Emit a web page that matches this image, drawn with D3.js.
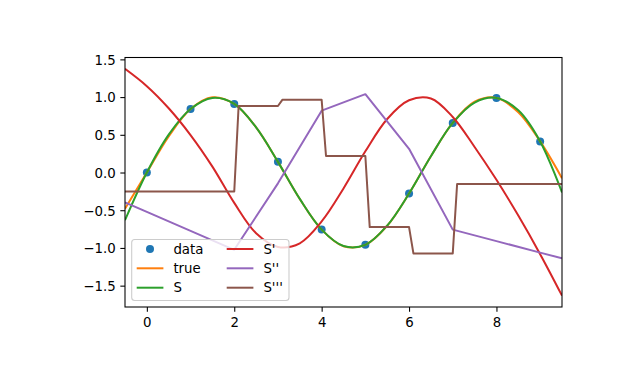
<!DOCTYPE html>
<html>
<head>
<meta charset="utf-8">
<script src="https://cdn.jsdelivr.net/npm/d3@7"></script>
<style>
  html, body { margin: 0; padding: 0; background: #fff; }
  svg { display: block; font-family: "DejaVu Sans", sans-serif; }
</style>
</head>
<body>
<svg id="chart" width="624" height="384"></svg>
<script>
// ---- data ----
const dataX = [0, 1, 2, 3, 4, 5, 6, 7, 8, 9];
const dataY = [0, 0.841471, 0.909297, 0.141120, -0.756802, -0.958924, -0.279415, 0.656987, 0.989358, 0.412118];

const curveX = [-0.5, 0, 0.5, 1, 1.5, 2, 2.5, 3, 3.5, 4, 4.5, 5, 5.5, 6, 6.5, 7, 7.5, 8, 8.5, 9, 9.5];
const trueY = [-0.479426, 0, 0.479426, 0.841471, 0.997495, 0.909297, 0.598472, 0.141120, -0.350783, -0.756802, -0.977530,
               -0.958924, -0.705540, -0.279415, 0.215120, 0.656987, 0.938000, 0.989358, 0.798487, 0.412118, -0.075151];
const sY = [-0.632385, 0, 0.501748, 0.841471, 0.987783, 0.909297, 0.598218, 0.141120, -0.350120, -0.756802, -0.974025,
            -0.958924, -0.703778, -0.279415, 0.216435, 0.656987, 0.927361, 0.989358, 0.823953, 0.412118, -0.265174];
const s1Y = [1.374480, 1.144594, 0.851933, 0.496498, 0.078288, -0.402696, -0.804900, -0.986768, -0.938058, -0.648532, -0.211241,
             0.280765, 0.709664, 0.957633, 0.981085, 0.736438, 0.338713, -0.097065, -0.570898, -1.082784, -1.632724];

const s2X = [-0.5, 0, 1, 2, 3, 4, 5, 6, 7, 8, 9, 9.5];
const s2Y = [-0.396998, -0.522547, -0.773645, -1.024743, -0.143398, 0.819867, 1.038728, 0.315006, -0.757395, -0.909611, -1.061827, -1.137935];

const s3X = [-0.5, 2.0, 2.1, 3.0, 3.1, 4.0, 4.1, 5.0, 5.1, 6.0, 6.1, 7.0, 7.1, 9.5];
const s3Y = [-0.251098, -0.251098, 0.881345, 0.881345, 0.963265, 0.963265, 0.218861, 0.218861, -0.723722, -0.723722,
             -1.072401, -1.072401, -0.152216, -0.152216];

const xTicks = [0, 2, 4, 6, 8];
const yTicks = [-1.5, -1.0, -0.5, 0.0, 0.5, 1.0, 1.5];

const colors = { data: "#1f77b4", trueC: "#ff7f0e", S: "#2ca02c", S1: "#d62728", S2: "#9467bd", S3: "#8c564b" };

// ---- layout ----
const svg = d3.select("#chart");
const L = 125, R = 562, T = 57.5, B = 307;
const FS = 13.33;

const allY = [].concat(dataY, trueY, sY, s1Y, s2Y, s3Y);
const [ymin, ymax] = d3.extent(allY);
const pad = (ymax - ymin) * 0.05;

const x = d3.scaleLinear().domain([-0.5, 9.5]).range([L, R]);
const y = d3.scaleLinear().domain([ymin - pad, ymax + pad]).range([B, T]);

svg.append("defs").append("clipPath").attr("id", "clip")
  .append("rect").attr("x", L).attr("y", T).attr("width", R - L).attr("height", B - T);

const plot = svg.append("g").attr("clip-path", "url(#clip)");

function drawLine(xs, ys, color, curve) {
  const pts = xs.map((v, i) => [v, ys[i]]);
  plot.append("path")
    .attr("d", d3.line().x(d => x(d[0])).y(d => y(d[1])).curve(curve)(pts))
    .attr("fill", "none").attr("stroke", color).attr("stroke-width", 2)
    .attr("stroke-linejoin", "round").attr("stroke-linecap", "butt");
}

// markers first (data drawn first in matplotlib)
plot.append("g").selectAll("circle").data(dataX).join("circle")
  .attr("cx", d => x(d)).attr("cy", (d, i) => y(dataY[i])).attr("r", 4)
  .attr("fill", colors.data);

drawLine(curveX, trueY, colors.trueC, d3.curveCatmullRom.alpha(0.5));
drawLine(curveX, sY, colors.S, d3.curveCatmullRom.alpha(0.5));
drawLine(curveX, s1Y, colors.S1, d3.curveCatmullRom.alpha(0.5));
drawLine(s2X, s2Y, colors.S2, d3.curveLinear);
drawLine(s3X, s3Y, colors.S3, d3.curveLinear);

// ---- axes ----
const frame = svg.append("g");
frame.append("rect").attr("x", L).attr("y", T).attr("width", R - L).attr("height", B - T)
  .attr("fill", "none").attr("stroke", "#000").attr("stroke-width", 1.07);

const xAxis = svg.append("g").attr("transform", `translate(0,${B})`)
  .call(d3.axisBottom(x).tickValues(xTicks).tickSize(4.67).tickPadding(4.67).tickFormat(d3.format("d")));
const yAxis = svg.append("g").attr("transform", `translate(${L},0)`)
  .call(d3.axisLeft(y).tickValues(yTicks).tickSize(4.67).tickPadding(4.67)
    .tickFormat(d => d3.format(".1f")(d).replace("-", "\u2212")));
[xAxis, yAxis].forEach(a => {
  a.select(".domain").remove();
  a.selectAll(".tick line").attr("stroke", "#000").attr("stroke-width", 1.07);
  a.selectAll(".tick text").attr("fill", "#000").style("font-size", FS + "px")
    .style("font-family", "'DejaVu Sans', sans-serif");
});
xAxis.selectAll(".tick text").attr("dy", null).attr("y", 19.5);
yAxis.selectAll(".tick text").attr("dy", "0.36em");

// ---- legend ----
const leg = svg.append("g");
leg.append("rect").attr("x", 131.7).attr("y", 239.5).attr("width", 157.3).attr("height", 61)
  .attr("rx", 3).attr("fill", "#fff").attr("fill-opacity", 0.8)
  .attr("stroke", "#cccccc").attr("stroke-width", 1.07);

const legItems = [
  { label: "data", color: colors.data, type: "marker", col: 0, row: 0 },
  { label: "true", color: colors.trueC, type: "line", col: 0, row: 1 },
  { label: "S", color: colors.S, type: "line", col: 0, row: 2 },
  { label: "S'", color: colors.S1, type: "line", col: 1, row: 0 },
  { label: "S''", color: colors.S2, type: "line", col: 1, row: 1 },
  { label: "S'''", color: colors.S3, type: "line", col: 1, row: 2 }
];
const colX = [136.7, 226.7];
const rowY = [249, 268.3, 287.7];
legItems.forEach(it => {
  const x0 = colX[it.col], yy = rowY[it.row];
  if (it.type === "marker") {
    leg.append("circle").attr("cx", x0 + 13.3).attr("cy", yy).attr("r", 4).attr("fill", it.color);
  } else {
    leg.append("line").attr("x1", x0).attr("x2", x0 + 26.7).attr("y1", yy).attr("y2", yy)
      .attr("stroke", it.color).attr("stroke-width", 2);
  }
  leg.append("text").attr("x", x0 + 36.7).attr("y", yy).attr("dy", "0.36em")
    .style("font-size", FS + "px").attr("fill", "#000").text(it.label);
});
</script>
</body>
</html>
